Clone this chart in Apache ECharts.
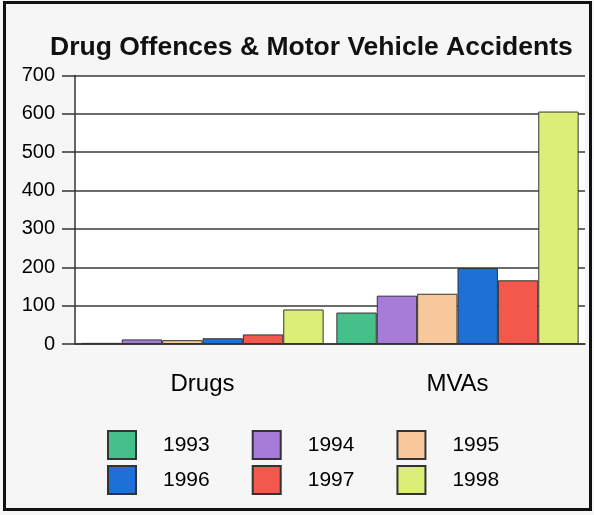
<!DOCTYPE html>
<html>
<head>
<meta charset="utf-8">
<script src="https://cdn.jsdelivr.net/npm/echarts@6/dist/echarts.min.js"></script>
<style>
html,body{margin:0;padding:0;background:#f6f6f6;}
#chart{width:594px;height:515px;}
</style>
</head>
<body>
<div id="chart"></div>
<script>
const titleText = 'Drug Offences & Motor Vehicle Accidents';
const categories = ['Drugs', 'MVAs'];
const years = ['1993', '1994', '1995', '1996', '1997', '1998'];
const v1993 = [3, 82];
const v1994 = [12, 126];
const v1995 = [10, 131];
const v1996 = [15, 198];
const v1997 = [25, 166];
const v1998 = [90, 606];
const yTicks = [0, 100, 200, 300, 400, 500, 600, 700];

const colors = ['#46c08b', '#a77bd8', '#f6c89c', '#1f70d6', '#f3584c', '#ddee78'];
const values = [v1993, v1994, v1995, v1996, v1997, v1998];
const FONT = '"Liberation Sans", Arial, sans-serif';

const chart = echarts.init(document.getElementById('chart'));
const legendCommon = {
  orient: 'horizontal',
  padding: 0,
  itemWidth: 28,
  itemHeight: 28,
  itemGap: 42,
  icon: 'rect',
  selectedMode: false,
  textStyle: { fontFamily: FONT, fontSize: 21, color: '#000', padding: [0, 0, 0, 22] }
};
chart.setOption({
  backgroundColor: '#f6f6f6',
  animation: false,
  title: {
    text: titleText,
    left: 45,
    top: 29,
    textStyle: { fontFamily: FONT, fontSize: 26.5, fontWeight: 'bold', color: '#111' }
  },
  legend: [
    Object.assign({ left: 107, top: 430, data: years.slice(0, 3) }, legendCommon),
    Object.assign({ left: 107, top: 465, data: years.slice(3, 6) }, legendCommon)
  ],
  grid: { left: 75, right: 9, top: 75.5, bottom: 171, show: true, backgroundColor: '#ffffff', borderWidth: 0 },
  xAxis: {
    type: 'category',
    data: categories,
    axisLine: { lineStyle: { color: '#333', width: 1.5 } },
    axisTick: { alignWithLabel: true, length: 15, lineStyle: { color: '#333', width: 1.5 } },
    axisLabel: { margin: 28, fontFamily: FONT, fontSize: 24, color: '#000' }
  },
  yAxis: {
    type: 'value',
    min: 0,
    max: 700,
    interval: 100,
    axisLine: { show: true, lineStyle: { color: '#333', width: 1.5 } },
    axisTick: { show: true, length: 13, lineStyle: { color: '#333', width: 1.5 } },
    axisLabel: { margin: 20, fontFamily: FONT, fontSize: 20, color: '#000',
      formatter: v => yTicks.includes(v) ? String(v) : '' },
    splitLine: { lineStyle: { color: '#3a3a3a', width: 1.5 } }
  },
  series: years.map((y, i) => ({
    name: y,
    type: 'bar',
    data: values[i],
    barGap: '0%',
    barCategoryGap: '5%',
    itemStyle: { color: colors[i], borderColor: '#333', borderWidth: 1 }
  })),
  graphic: [{
    type: 'rect',
    shape: { x: 4.5, y: 2.5, width: 586, height: 507 },
    style: { fill: 'none', stroke: '#111', lineWidth: 3 },
    silent: true
  }]
});
</script>
</body>
</html>
